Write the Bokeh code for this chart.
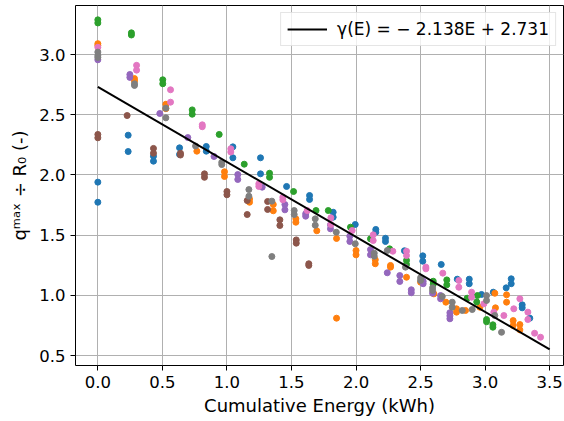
from bokeh.plotting import figure
from bokeh.models import Range1d, Legend, LegendItem, FixedTicker, NumeralTickFormatter
from bokeh.embed import file_html
from bokeh.resources import INLINE

# ---- data ----
blue_x = [0, 0, 0.235, 0.235, 0.431, 0.431, 0.633, 0.633, 0.84, 0.84, 1.046, 1.046, 1.26, 1.26,
          1.462, 1.64, 1.64, 1.823, 1.823, 1.994, 2.153, 2.153, 2.228, 2.228, 2.375, 2.517, 2.517,
          2.66, 2.784, 2.877, 2.877, 2.972, 3.063, 3.163, 3.202, 3.202, 3.287, 3.287, 3.346]
blue_y = [1.94, 1.773, 2.33, 2.194, 2.155, 2.114, 2.225, 2.17, 2.236, 2.197, 2.233, 2.142, 2.142, 2.009,
          1.904, 1.829, 1.796, 1.69, 1.649, 1.588, 1.547, 1.524, 1.474, 1.447, 1.37, 1.328, 1.283,
          1.256, 1.134, 1.134, 1.096, 1.007, 1.026, 1.062, 1.137, 1.096, 0.921, 0.896, 0.81]

orange_x = [0, 0, 0.284, 0.284, 0.527, 0.527, 0.767, 0.981, 0.981, 1.175, 1.175, 1.359, 1.359,
            1.534, 1.534, 1.696, 1.849, 1.849, 2.0, 2.0, 2.149, 2.149, 2.267, 2.267, 2.391, 2.5,
            2.603, 2.696, 2.778, 2.778, 2.848, 2.959, 3.075, 3.08, 3.166, 3.166, 3.217, 3.217,
            3.269, 3.269]
orange_y = [3.09, 3.075, 2.80, 2.78, 2.587, 2.55, 2.197, 2.026, 1.987, 1.80, 1.773, 1.754, 1.702,
            1.635, 1.607, 1.536, 1.472, 0.81, 1.372, 1.336, 1.295, 1.262, 1.248, 1.234, 1.15, 1.109,
            1.012, 0.943, 0.888, 0.86, 0.874, 0.901, 1.017, 0.896, 1.004, 0.943, 0.79, 0.749,
            0.757, 0.713]

green_x = [0, 0, 0.26, 0.26, 0.503, 0.503, 0.731, 0.731, 0.94, 1.134, 1.33, 1.33, 1.516, 1.69,
           1.785, 1.957, 2.112, 2.26, 2.391, 2.391, 2.598, 2.598, 2.703, 2.703, 2.861, 2.94, 2.935,
           3.011, 3.011, 3.06, 3.06]
green_y = [3.288, 3.262, 3.18, 3.162, 2.79, 2.757, 2.54, 2.504, 2.336, 2.089, 2.014, 1.98, 1.862, 1.704,
           1.704, 1.566, 1.469, 1.386, 1.29, 1.256, 1.117, 1.092, 1.128, 1.087, 0.976, 0.998, 0.945,
           0.799, 0.78, 0.755, 0.735]

purple_x = [0, 0.248, 0.248, 0.48, 0.697, 0.9, 1.084, 1.084, 1.273, 1.449, 1.449, 1.61, 1.61,
            1.802, 1.802, 1.952, 1.952, 2.112, 2.112, 2.242, 2.339, 2.339, 2.428, 2.428, 2.52, 2.52,
            2.593, 2.655, 2.655, 2.727, 2.727, 2.727]
purple_y = [2.956, 2.834, 2.81, 2.51, 2.31, 2.153, 2.003, 1.962, 1.898, 1.754, 1.71, 1.677, 1.657,
            1.585, 1.552, 1.491, 1.447, 1.38, 1.336, 1.187, 1.164, 1.115, 1.046, 1.021, 1.117, 1.096,
            1.017, 0.998, 0.971, 0.855, 0.83, 0.805]

brown_x = [0, 0, 0.227, 0.431, 0.431, 0.64, 0.64, 0.826, 0.826, 1.0, 1.0, 1.157, 1.157, 1.315, 1.315,
           1.41, 1.41, 1.537, 1.537, 1.634, 1.634]
brown_y = [2.336, 2.308, 2.493, 2.22, 2.18, 2.18, 2.165, 2.009, 1.98, 1.862, 1.835, 1.787, 1.671,
           1.779, 1.713, 1.627, 1.58, 1.46, 1.433, 1.262, 1.248]

pink_x = [0, 0.30, 0.30, 0.563, 0.563, 0.809, 0.809, 1.03, 1.03, 1.247, 1.247, 1.433, 1.433, 1.622,
          1.805, 1.805, 1.97, 2.133, 2.133, 2.285, 2.391, 2.391, 2.541, 2.541, 2.672, 2.796, 2.796,
          2.895, 2.895, 2.99, 3.067, 3.145, 3.222, 3.269, 3.331, 3.331, 3.383, 3.429]
pink_y = [3.06, 2.91, 2.87, 2.707, 2.604, 2.416, 2.40, 2.217, 2.19, 1.926, 1.904, 1.815, 1.793, 1.704,
          1.644, 1.588, 1.538, 1.502, 1.455, 1.366, 1.366, 1.33, 1.234, 1.22, 1.184, 1.123, 1.067,
          1.026, 0.984, 0.929, 0.86, 0.832, 0.888, 0.971, 0.86, 0.799, 0.685, 0.652]

gray_x = [0, 0, 0, 0.284, 0.284, 0.527, 0.527, 0.757, 0.96, 0.96, 1.17, 1.17, 1.348, 1.348, 1.521,
          1.521, 1.684, 1.684, 1.847, 1.994, 2.141, 2.141, 2.242, 2.383, 2.5, 2.5, 2.593, 2.593,
          2.668, 2.745, 2.745, 2.823, 2.9, 3.011, 3.011, 3.075, 3.127]
gray_y = [3.02, 2.99, 2.975, 2.757, 2.743, 2.554, 2.474, 2.24, 2.105, 2.086, 1.878, 1.823, 1.782, 1.322,
          1.704, 1.671, 1.635, 1.582, 1.524, 1.428, 1.35, 1.325, 1.372, 1.234, 1.146, 1.123, 1.062,
          1.04, 0.99, 0.943, 0.901, 0.874, 0.882, 0.998, 0.957, 0.832, 0.693]

series = [
    (blue_x, blue_y, "#1f77b4"),
    (orange_x, orange_y, "#ff7f0e"),
    (green_x, green_y, "#2ca02c"),
    (purple_x, purple_y, "#9467bd"),
    (brown_x, brown_y, "#8c564b"),
    (pink_x, pink_y, "#e377c2"),
    (gray_x, gray_y, "#7f7f7f"),
]

fit_x = [0.0, 3.5]
fit_intercept = 2.731
fit_slope = -0.623
fit_label = "γ(E) = − 2.138E + 2.731"

x_ticks = [0.0, 0.5, 1.0, 1.5, 2.0, 2.5, 3.0, 3.5]
y_ticks = [0.5, 1.0, 1.5, 2.0, 2.5, 3.0]

FONT = "DejaVu Sans"

p = figure(width=564, height=421, output_backend="svg", toolbar_location=None,
           x_range=Range1d(-0.173, 3.607), y_range=Range1d(0.417, 3.407),
           min_border_left=75, min_border_right=1, min_border_top=5, min_border_bottom=56)

for xs, ys, c in series:
    p.scatter(xs, ys, size=6, color=c, line_color=c)

fit_y = [fit_intercept + fit_slope * x for x in fit_x]
line = p.line(fit_x, fit_y, line_color="black", line_width=2)

legend = Legend(items=[LegendItem(label=fit_label, renderers=[line])], location="top_right")
legend.label_text_font = FONT
legend.label_text_font_size = "17px"
legend.label_text_font_style = "normal"
legend.label_text_color = "black"
legend.border_line_color = "#cccccc"
legend.border_line_width = 1
legend.background_fill_alpha = 0.8
legend.margin = 7
legend.padding = 6
legend.glyph_width = 40
legend.glyph_height = 20
legend.label_standoff = 10
p.add_layout(legend)

p.xaxis.ticker = FixedTicker(ticks=x_ticks)
p.yaxis.ticker = FixedTicker(ticks=y_ticks)
p.xaxis.formatter = NumeralTickFormatter(format="0.0")
p.yaxis.formatter = NumeralTickFormatter(format="0.0")
for ax in (p.xaxis[0], p.yaxis[0]):
    ax.major_label_text_font = FONT
    ax.major_label_text_font_size = "16.5px"
    ax.major_label_text_color = "black"
    ax.axis_label_text_font = FONT
    ax.axis_label_text_font_size = "18px"
    ax.axis_label_text_font_style = "normal"
    ax.axis_label_text_color = "black"
    ax.axis_line_color = None
    ax.major_tick_line_color = "black"
    ax.major_tick_in = 0
    ax.major_tick_out = 5
    ax.minor_tick_line_color = None
p.xaxis.axis_label = "Cumulative Energy (kWh)"
p.yaxis.axis_label = "qᵐᵃˣ ÷ R₀ (-)"
p.xaxis.axis_label_standoff = 4
p.yaxis.axis_label_standoff = 6

p.grid.grid_line_color = "#b0b0b0"
p.grid.grid_line_width = 1
p.outline_line_color = "black"
p.outline_line_width = 1
p.outline_line_alpha = 1
p.background_fill_color = "white"
p.border_fill_color = "white"

open("out.html", "w").write(file_html(p, INLINE))
